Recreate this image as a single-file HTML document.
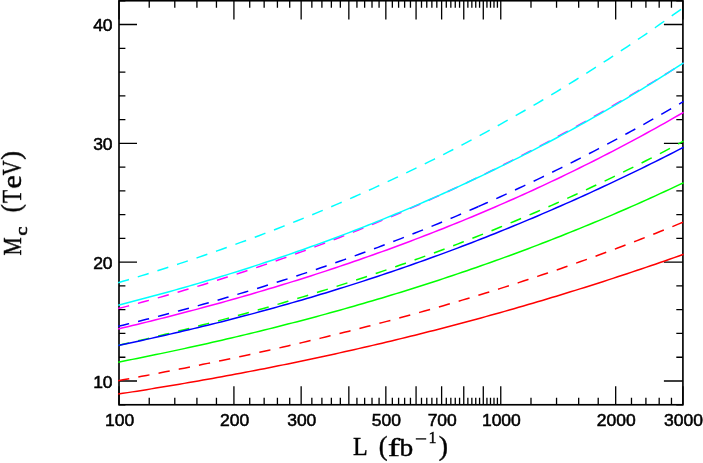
<!DOCTYPE html>
<html><head><meta charset="utf-8"><title>plot</title>
<style>html,body{margin:0;padding:0;background:#fff}svg{display:block}text{font-family:"Liberation Sans",sans-serif;fill:#000}.s{font-family:"Liberation Serif",serif}</style></head><body>
<svg width="703" height="463" viewBox="0 0 703 463">
<rect width="703" height="463" fill="#fff"/>
<path d="M119.00 404.77v-18.50M119.00 0.74v18.80M233.92 404.77v-18.50M233.92 0.74v18.80M301.15 404.77v-18.50M301.15 0.74v18.80M348.84 404.77v-18.50M348.84 0.74v18.80M385.84 404.77v-18.50M385.84 0.74v18.80M416.07 404.77v-18.50M416.07 0.74v18.80M441.62 404.77v-18.50M441.62 0.74v18.80M463.76 404.77v-18.50M463.76 0.74v18.80M483.29 404.77v-18.50M483.29 0.74v18.80M500.76 404.77v-18.50M500.76 0.74v18.80M615.68 404.77v-18.50M615.68 0.74v18.80M682.91 404.77v-18.50M682.91 0.74v18.80M149.23 404.77v-7.00M149.23 0.74v6.90M174.79 404.77v-7.00M174.79 0.74v6.90M196.92 404.77v-7.00M196.92 0.74v6.90M216.45 404.77v-7.00M216.45 0.74v6.90M249.72 404.77v-7.00M249.72 0.74v6.90M264.15 404.77v-7.00M264.15 0.74v6.90M277.42 404.77v-7.00M277.42 0.74v6.90M289.71 404.77v-7.00M289.71 0.74v6.90M311.85 404.77v-7.00M311.85 0.74v6.90M321.90 404.77v-7.00M321.90 0.74v6.90M331.37 404.77v-7.00M331.37 0.74v6.90M340.34 404.77v-7.00M340.34 0.74v6.90M356.93 404.77v-7.00M356.93 0.74v6.90M364.64 404.77v-7.00M364.64 0.74v6.90M372.01 404.77v-7.00M372.01 0.74v6.90M379.07 404.77v-7.00M379.07 0.74v6.90M392.34 404.77v-7.00M392.34 0.74v6.90M398.60 404.77v-7.00M398.60 0.74v6.90M404.63 404.77v-7.00M404.63 0.74v6.90M410.45 404.77v-7.00M410.45 0.74v6.90M421.50 404.77v-7.00M421.50 0.74v6.90M426.77 404.77v-7.00M426.77 0.74v6.90M431.87 404.77v-7.00M431.87 0.74v6.90M436.82 404.77v-7.00M436.82 0.74v6.90M446.30 404.77v-7.00M446.30 0.74v6.90M450.84 404.77v-7.00M450.84 0.74v6.90M455.26 404.77v-7.00M455.26 0.74v6.90M459.57 404.77v-7.00M459.57 0.74v6.90M467.86 404.77v-7.00M467.86 0.74v6.90M471.85 404.77v-7.00M471.85 0.74v6.90M475.75 404.77v-7.00M475.75 0.74v6.90M479.57 404.77v-7.00M479.57 0.74v6.90M486.94 404.77v-7.00M486.94 0.74v6.90M490.50 404.77v-7.00M490.50 0.74v6.90M493.99 404.77v-7.00M493.99 0.74v6.90M497.41 404.77v-7.00M497.41 0.74v6.90M530.99 404.77v-7.00M530.99 0.74v6.90M556.55 404.77v-7.00M556.55 0.74v6.90M578.68 404.77v-7.00M578.68 0.74v6.90M598.21 404.77v-7.00M598.21 0.74v6.90M631.48 404.77v-7.00M631.48 0.74v6.90M645.91 404.77v-7.00M645.91 0.74v6.90M659.18 404.77v-7.00M659.18 0.74v6.90M671.47 404.77v-7.00M671.47 0.74v6.90M119.00 404.77h6.40M682.91 404.77h-6.60M119.00 381.00h18.00M682.91 381.00h-19.00M119.00 357.23h6.40M682.91 357.23h-6.60M119.00 333.47h6.40M682.91 333.47h-6.60M119.00 309.70h6.40M682.91 309.70h-6.60M119.00 285.94h6.40M682.91 285.94h-6.60M119.00 262.17h18.00M682.91 262.17h-19.00M119.00 238.40h6.40M682.91 238.40h-6.60M119.00 214.64h6.40M682.91 214.64h-6.60M119.00 190.87h6.40M682.91 190.87h-6.60M119.00 167.11h6.40M682.91 167.11h-6.60M119.00 143.34h18.00M682.91 143.34h-19.00M119.00 119.57h6.40M682.91 119.57h-6.60M119.00 95.81h6.40M682.91 95.81h-6.60M119.00 72.04h6.40M682.91 72.04h-6.60M119.00 48.28h6.40M682.91 48.28h-6.60M119.00 24.51h18.00M682.91 24.51h-19.00M119.00 0.74h6.40M682.91 0.74h-6.60" fill="none" stroke="#000" stroke-width="1.3"/>
<rect x="119.00" y="0.74" width="563.91" height="404.02" fill="none" stroke="#000" stroke-width="1.65"/>
<path d="M118.20 394.07 L122.91 393.35 L127.62 392.62 L132.34 391.88 L137.05 391.14 L141.76 390.39 L146.47 389.64 L151.18 388.87 L155.89 388.11 L160.61 387.33 L165.32 386.55 L170.03 385.77 L174.74 384.97 L179.45 384.17 L184.16 383.37 L188.88 382.56 L193.59 381.74 L198.30 380.91 L203.01 380.08 L207.72 379.24 L212.43 378.39 L217.15 377.54 L221.86 376.68 L226.57 375.82 L231.28 374.94 L235.99 374.06 L240.70 373.18 L245.42 372.28 L250.13 371.38 L254.84 370.47 L259.55 369.56 L264.26 368.64 L268.97 367.71 L273.69 366.77 L278.40 365.83 L283.11 364.88 L287.82 363.92 L292.53 362.95 L297.25 361.98 L301.96 361.00 L306.67 360.01 L311.38 359.02 L316.09 358.01 L320.80 357.00 L325.52 355.98 L330.23 354.96 L334.94 353.93 L339.65 352.88 L344.36 351.84 L349.07 350.78 L353.79 349.72 L358.50 348.64 L363.21 347.56 L367.92 346.48 L372.63 345.38 L377.34 344.28 L382.06 343.16 L386.77 342.04 L391.48 340.92 L396.19 339.78 L400.90 338.64 L405.61 337.48 L410.33 336.32 L415.04 335.16 L419.75 333.98 L424.46 332.79 L429.17 331.60 L433.88 330.40 L438.60 329.19 L443.31 327.97 L448.02 326.74 L452.73 325.51 L457.44 324.26 L462.16 323.01 L466.87 321.75 L471.58 320.48 L476.29 319.21 L481.00 317.92 L485.71 316.62 L490.43 315.32 L495.14 314.01 L499.85 312.69 L504.56 311.36 L509.27 310.02 L513.98 308.67 L518.70 307.32 L523.41 305.95 L528.12 304.58 L532.83 303.20 L537.54 301.81 L542.25 300.41 L546.97 299.00 L551.68 297.59 L556.39 296.16 L561.10 294.73 L565.81 293.28 L570.52 291.83 L575.24 290.37 L579.95 288.90 L584.66 287.42 L589.37 285.93 L594.08 284.44 L598.79 282.93 L603.51 281.42 L608.22 279.89 L612.93 278.36 L617.64 276.82 L622.35 275.27 L627.07 273.71 L631.78 272.14 L636.49 270.57 L641.20 268.98 L645.91 267.39 L650.62 265.78 L655.34 264.17 L660.05 262.55 L664.76 260.92 L669.47 259.28 L674.18 257.63 L678.89 255.98 L683.61 254.31" fill="none" stroke="#ff0000" stroke-width="1.5"/>
<path d="M118.20 380.66 L122.91 379.81 L127.62 378.95 L132.34 378.08 L137.05 377.21 L141.76 376.33 L146.47 375.44 L151.18 374.55 L155.89 373.66 L160.61 372.75 L165.32 371.84 L170.03 370.93 L174.74 370.01 L179.45 369.08 L184.16 368.15 L188.88 367.21 L193.59 366.26 L198.30 365.31 L203.01 364.35 L207.72 363.39 L212.43 362.41 L217.15 361.43 L221.86 360.45 L226.57 359.46 L231.28 358.46 L235.99 357.45 L240.70 356.44 L245.42 355.42 L250.13 354.40 L254.84 353.36 L259.55 352.32 L264.26 351.28 L268.97 350.22 L273.69 349.16 L278.40 348.09 L283.11 347.02 L287.82 345.93 L292.53 344.84 L297.25 343.74 L301.96 342.64 L306.67 341.53 L311.38 340.40 L316.09 339.28 L320.80 338.14 L325.52 337.00 L330.23 335.84 L334.94 334.68 L339.65 333.52 L344.36 332.34 L349.07 331.16 L353.79 329.97 L358.50 328.77 L363.21 327.56 L367.92 326.34 L372.63 325.11 L377.34 323.88 L382.06 322.64 L386.77 321.39 L391.48 320.13 L396.19 318.86 L400.90 317.58 L405.61 316.30 L410.33 315.00 L415.04 313.70 L419.75 312.39 L424.46 311.06 L429.17 309.73 L433.88 308.39 L438.60 307.04 L443.31 305.68 L448.02 304.32 L452.73 302.94 L457.44 301.55 L462.16 300.15 L466.87 298.75 L471.58 297.33 L476.29 295.90 L481.00 294.46 L485.71 293.02 L490.43 291.56 L495.14 290.09 L499.85 288.61 L504.56 287.12 L509.27 285.63 L513.98 284.12 L518.70 282.60 L523.41 281.06 L528.12 279.52 L532.83 277.97 L537.54 276.41 L542.25 274.83 L546.97 273.24 L551.68 271.65 L556.39 270.04 L561.10 268.42 L565.81 266.79 L570.52 265.14 L575.24 263.49 L579.95 261.82 L584.66 260.14 L589.37 258.45 L594.08 256.75 L598.79 255.03 L603.51 253.30 L608.22 251.56 L612.93 249.81 L617.64 248.05 L622.35 246.27 L627.07 244.48 L631.78 242.67 L636.49 240.86 L641.20 239.03 L645.91 237.18 L650.62 235.33 L655.34 233.46 L660.05 231.57 L664.76 229.67 L669.47 227.76 L674.18 225.84 L678.89 223.90 L683.61 221.94" fill="none" stroke="#ff0000" stroke-width="1.5" stroke-dasharray="11.4 9.185" stroke-dashoffset="0.15"/>
<path d="M118.20 362.15 L122.91 361.23 L127.62 360.30 L132.34 359.37 L137.05 358.43 L141.76 357.48 L146.47 356.53 L151.18 355.57 L155.89 354.60 L160.61 353.62 L165.32 352.64 L170.03 351.64 L174.74 350.64 L179.45 349.63 L184.16 348.62 L188.88 347.59 L193.59 346.56 L198.30 345.52 L203.01 344.47 L207.72 343.41 L212.43 342.34 L217.15 341.27 L221.86 340.18 L226.57 339.09 L231.28 337.99 L235.99 336.88 L240.70 335.77 L245.42 334.64 L250.13 333.51 L254.84 332.36 L259.55 331.21 L264.26 330.05 L268.97 328.88 L273.69 327.70 L278.40 326.51 L283.11 325.31 L287.82 324.10 L292.53 322.89 L297.25 321.66 L301.96 320.42 L306.67 319.18 L311.38 317.92 L316.09 316.66 L320.80 315.39 L325.52 314.10 L330.23 312.81 L334.94 311.50 L339.65 310.19 L344.36 308.87 L349.07 307.53 L353.79 306.19 L358.50 304.83 L363.21 303.47 L367.92 302.09 L372.63 300.71 L377.34 299.31 L382.06 297.91 L386.77 296.49 L391.48 295.06 L396.19 293.62 L400.90 292.17 L405.61 290.71 L410.33 289.24 L415.04 287.76 L419.75 286.26 L424.46 284.76 L429.17 283.24 L433.88 281.71 L438.60 280.18 L443.31 278.62 L448.02 277.06 L452.73 275.49 L457.44 273.90 L462.16 272.31 L466.87 270.70 L471.58 269.08 L476.29 267.45 L481.00 265.80 L485.71 264.14 L490.43 262.47 L495.14 260.79 L499.85 259.10 L504.56 257.39 L509.27 255.68 L513.98 253.95 L518.70 252.20 L523.41 250.45 L528.12 248.68 L532.83 246.90 L537.54 245.10 L542.25 243.29 L546.97 241.47 L551.68 239.64 L556.39 237.79 L561.10 235.93 L565.81 234.06 L570.52 232.17 L575.24 230.27 L579.95 228.36 L584.66 226.43 L589.37 224.49 L594.08 222.54 L598.79 220.57 L603.51 218.59 L608.22 216.59 L612.93 214.58 L617.64 212.56 L622.35 210.52 L627.07 208.46 L631.78 206.40 L636.49 204.32 L641.20 202.22 L645.91 200.11 L650.62 197.98 L655.34 195.84 L660.05 193.69 L664.76 191.52 L669.47 189.34 L674.18 187.14 L678.89 184.92 L683.61 182.70" fill="none" stroke="#00ff00" stroke-width="1.5"/>
<path d="M118.20 345.41 L122.91 344.34 L127.62 343.26 L132.34 342.17 L137.05 341.07 L141.76 339.97 L146.47 338.86 L151.18 337.73 L155.89 336.60 L160.61 335.47 L165.32 334.32 L170.03 333.16 L174.74 332.00 L179.45 330.83 L184.16 329.65 L188.88 328.46 L193.59 327.26 L198.30 326.05 L203.01 324.83 L207.72 323.61 L212.43 322.37 L217.15 321.13 L221.86 319.88 L226.57 318.62 L231.28 317.35 L235.99 316.06 L240.70 314.77 L245.42 313.47 L250.13 312.17 L254.84 310.85 L259.55 309.52 L264.26 308.18 L268.97 306.83 L273.69 305.48 L278.40 304.11 L283.11 302.73 L287.82 301.34 L292.53 299.94 L297.25 298.54 L301.96 297.12 L306.67 295.69 L311.38 294.25 L316.09 292.80 L320.80 291.34 L325.52 289.87 L330.23 288.39 L334.94 286.90 L339.65 285.39 L344.36 283.88 L349.07 282.35 L353.79 280.82 L358.50 279.27 L363.21 277.71 L367.92 276.14 L372.63 274.56 L377.34 272.97 L382.06 271.36 L386.77 269.75 L391.48 268.12 L396.19 266.48 L400.90 264.83 L405.61 263.17 L410.33 261.50 L415.04 259.81 L419.75 258.11 L424.46 256.40 L429.17 254.68 L433.88 252.94 L438.60 251.19 L443.31 249.43 L448.02 247.66 L452.73 245.88 L457.44 244.08 L462.16 242.27 L466.87 240.44 L471.58 238.61 L476.29 236.76 L481.00 234.90 L485.71 233.02 L490.43 231.13 L495.14 229.23 L499.85 227.31 L504.56 225.38 L509.27 223.44 L513.98 221.48 L518.70 219.51 L523.41 217.53 L528.12 215.53 L532.83 213.52 L537.54 211.49 L542.25 209.45 L546.97 207.39 L551.68 205.32 L556.39 203.24 L561.10 201.14 L565.81 199.03 L570.52 196.90 L575.24 194.76 L579.95 192.60 L584.66 190.43 L589.37 188.24 L594.08 186.04 L598.79 183.82 L603.51 181.59 L608.22 179.34 L612.93 177.07 L617.64 174.79 L622.35 172.50 L627.07 170.19 L631.78 167.86 L636.49 165.52 L641.20 163.16 L645.91 160.78 L650.62 158.39 L655.34 155.98 L660.05 153.56 L664.76 151.12 L669.47 148.66 L674.18 146.19 L678.89 143.70 L683.61 141.19" fill="none" stroke="#00ff00" stroke-width="1.5" stroke-dasharray="11.4 9.185" stroke-dashoffset="0.15"/>
<path d="M118.20 345.40 L122.91 344.42 L127.62 343.43 L132.34 342.44 L137.05 341.43 L141.76 340.42 L146.47 339.39 L151.18 338.36 L155.89 337.31 L160.61 336.26 L165.32 335.20 L170.03 334.13 L174.74 333.04 L179.45 331.95 L184.16 330.85 L188.88 329.74 L193.59 328.62 L198.30 327.49 L203.01 326.34 L207.72 325.19 L212.43 324.03 L217.15 322.86 L221.86 321.68 L226.57 320.48 L231.28 319.28 L235.99 318.06 L240.70 316.84 L245.42 315.60 L250.13 314.36 L254.84 313.10 L259.55 311.83 L264.26 310.56 L268.97 309.27 L273.69 307.97 L278.40 306.65 L283.11 305.33 L287.82 304.00 L292.53 302.65 L297.25 301.30 L301.96 299.93 L306.67 298.55 L311.38 297.16 L316.09 295.76 L320.80 294.34 L325.52 292.92 L330.23 291.48 L334.94 290.03 L339.65 288.57 L344.36 287.10 L349.07 285.62 L353.79 284.12 L358.50 282.61 L363.21 281.09 L367.92 279.56 L372.63 278.02 L377.34 276.46 L382.06 274.89 L386.77 273.31 L391.48 271.72 L396.19 270.11 L400.90 268.49 L405.61 266.86 L410.33 265.22 L415.04 263.56 L419.75 261.89 L424.46 260.21 L429.17 258.52 L433.88 256.81 L438.60 255.09 L443.31 253.36 L448.02 251.61 L452.73 249.85 L457.44 248.08 L462.16 246.30 L466.87 244.50 L471.58 242.69 L476.29 240.86 L481.00 239.03 L485.71 237.18 L490.43 235.31 L495.14 233.43 L499.85 231.54 L504.56 229.64 L509.27 227.72 L513.98 225.79 L518.70 223.85 L523.41 221.89 L528.12 219.92 L532.83 217.94 L537.54 215.94 L542.25 213.93 L546.97 211.90 L551.68 209.87 L556.39 207.81 L561.10 205.75 L565.81 203.67 L570.52 201.58 L575.24 199.47 L579.95 197.35 L584.66 195.22 L589.37 193.07 L594.08 190.91 L598.79 188.73 L603.51 186.54 L608.22 184.34 L612.93 182.13 L617.64 179.90 L622.35 177.66 L627.07 175.40 L631.78 173.13 L636.49 170.85 L641.20 168.55 L645.91 166.24 L650.62 163.91 L655.34 161.58 L660.05 159.22 L664.76 156.86 L669.47 154.48 L674.18 152.09 L678.89 149.69 L683.61 147.27" fill="none" stroke="#0000ff" stroke-width="1.5"/>
<path d="M118.20 326.30 L122.91 325.16 L127.62 324.01 L132.34 322.86 L137.05 321.69 L141.76 320.51 L146.47 319.33 L151.18 318.13 L155.89 316.92 L160.61 315.71 L165.32 314.48 L170.03 313.24 L174.74 311.99 L179.45 310.74 L184.16 309.47 L188.88 308.19 L193.59 306.90 L198.30 305.60 L203.01 304.29 L207.72 302.97 L212.43 301.63 L217.15 300.29 L221.86 298.93 L226.57 297.57 L231.28 296.19 L235.99 294.80 L240.70 293.40 L245.42 291.99 L250.13 290.57 L254.84 289.14 L259.55 287.69 L264.26 286.23 L268.97 284.77 L273.69 283.29 L278.40 281.79 L283.11 280.29 L287.82 278.77 L292.53 277.24 L297.25 275.70 L301.96 274.15 L306.67 272.59 L311.38 271.01 L316.09 269.42 L320.80 267.82 L325.52 266.20 L330.23 264.57 L334.94 262.93 L339.65 261.28 L344.36 259.61 L349.07 257.94 L353.79 256.24 L358.50 254.54 L363.21 252.82 L367.92 251.09 L372.63 249.34 L377.34 247.59 L382.06 245.82 L386.77 244.03 L391.48 242.23 L396.19 240.42 L400.90 238.59 L405.61 236.75 L410.33 234.90 L415.04 233.03 L419.75 231.15 L424.46 229.26 L429.17 227.35 L433.88 225.42 L438.60 223.48 L443.31 221.53 L448.02 219.56 L452.73 217.58 L457.44 215.59 L462.16 213.58 L466.87 211.55 L471.58 209.51 L476.29 207.46 L478.40 206.53" fill="none" stroke="#0000ff" stroke-width="1.5" stroke-dasharray="11.4 9.185" stroke-dashoffset="0.15"/>
<path d="M478.40 206.53 L481.00 205.39 L485.71 203.30 L490.43 201.20 L495.14 199.09 L499.85 196.96 L504.56 194.81 L509.27 192.65 L513.98 190.48 L518.70 188.28 L523.41 186.08 L528.12 183.86 L532.83 181.62 L537.54 179.36 L542.25 177.10 L546.97 174.81 L551.68 172.51 L556.39 170.19 L561.10 167.86 L565.81 165.51 L570.52 163.15 L575.24 160.77 L579.95 158.37 L584.66 155.96 L589.37 153.53 L594.08 151.09 L598.79 148.62 L603.51 146.15 L608.22 143.65 L612.93 141.14 L617.64 138.61 L622.35 136.07 L627.07 133.51 L631.78 130.93 L636.49 128.34 L641.20 125.73 L645.91 123.10 L650.62 120.46 L655.34 117.80 L660.05 115.12 L664.76 112.42 L669.47 109.71 L674.18 106.98 L678.89 104.24 L683.61 101.47" fill="none" stroke="#0000ff" stroke-width="1.5" stroke-dasharray="11.4 9.185" stroke-dashoffset="1"/>
<path d="M118.20 328.90 L122.91 327.79 L127.62 326.68 L132.34 325.55 L137.05 324.42 L141.76 323.28 L146.47 322.12 L151.18 320.96 L155.89 319.79 L160.61 318.62 L165.32 317.43 L170.03 316.23 L174.74 315.03 L179.45 313.81 L184.16 312.59 L188.88 311.35 L193.59 310.11 L198.30 308.85 L203.01 307.59 L207.72 306.32 L212.43 305.04 L217.15 303.74 L221.86 302.44 L226.57 301.13 L231.28 299.80 L235.99 298.47 L240.70 297.13 L245.42 295.77 L250.13 294.41 L254.84 293.03 L259.55 291.65 L264.26 290.25 L268.97 288.84 L273.69 287.43 L278.40 286.00 L283.11 284.56 L287.82 283.10 L292.53 281.64 L297.25 280.17 L301.96 278.68 L306.67 277.19 L311.38 275.68 L316.09 274.16 L320.80 272.63 L325.52 271.09 L330.23 269.53 L334.94 267.97 L339.65 266.39 L344.36 264.80 L349.07 263.19 L353.79 261.58 L358.50 259.95 L363.21 258.31 L367.92 256.66 L372.63 254.99 L377.34 253.31 L382.06 251.62 L386.77 249.92 L391.48 248.20 L396.19 246.47 L400.90 244.73 L405.61 242.98 L410.33 241.21 L415.04 239.42 L419.75 237.63 L424.46 235.82 L429.17 233.99 L433.88 232.16 L438.60 230.30 L443.31 228.44 L448.02 226.56 L452.73 224.67 L457.44 222.76 L462.16 220.83 L466.87 218.90 L471.58 216.95 L476.29 214.98 L481.00 213.00 L485.71 211.00 L490.43 208.99 L495.14 206.96 L499.85 204.92 L504.56 202.87 L509.27 200.79 L513.98 198.71 L518.70 196.60 L523.41 194.48 L528.12 192.35 L532.83 190.20 L537.54 188.03 L542.25 185.85 L546.97 183.65 L551.68 181.43 L556.39 179.20 L561.10 176.95 L565.81 174.69 L570.52 172.40 L575.24 170.10 L579.95 167.79 L584.66 165.45 L589.37 163.10 L594.08 160.73 L598.79 158.35 L603.51 155.94 L608.22 153.52 L612.93 151.08 L617.64 148.63 L622.35 146.15 L627.07 143.66 L631.78 141.15 L636.49 138.62 L641.20 136.07 L645.91 133.50 L650.62 130.91 L655.34 128.31 L660.05 125.69 L664.76 123.04 L669.47 120.38 L674.18 117.70 L678.89 115.00 L683.61 112.28" fill="none" stroke="#ff00ff" stroke-width="1.5"/>
<path d="M118.20 308.59 L122.91 307.36 L127.62 306.12 L132.34 304.87 L137.05 303.61 L141.76 302.33 L146.47 301.04 L151.18 299.74 L155.89 298.43 L160.61 297.11 L165.32 295.78 L170.03 294.43 L174.74 293.07 L179.45 291.70 L184.16 290.32 L188.88 288.93 L193.59 287.52 L198.30 286.10 L203.01 284.67 L207.72 283.23 L212.43 281.77 L217.15 280.30 L221.86 278.82 L226.57 277.32 L231.28 275.82 L235.99 274.30 L240.70 272.76 L245.42 271.22 L250.13 269.66 L254.84 268.08 L259.55 266.50 L264.26 264.90 L268.97 263.29 L273.69 261.66 L278.40 260.02 L283.11 258.37 L287.82 256.70 L292.53 255.02 L297.25 253.33 L301.96 251.62 L306.67 249.90 L311.38 248.16 L316.09 246.41 L320.80 244.65 L325.52 242.87 L330.23 241.07 L334.94 239.27 L339.65 237.45 L344.36 235.61 L349.07 233.76 L353.79 231.90 L358.50 230.02 L363.21 228.12 L367.92 226.22 L372.63 224.29 L377.34 222.36 L382.06 220.40 L386.77 218.44 L391.48 216.45 L396.19 214.46 L400.90 212.44 L405.61 210.42 L410.33 208.37 L415.04 206.31 L419.75 204.24 L424.46 202.15 L429.17 200.05 L433.88 197.93 L438.60 195.80 L443.31 193.65 L448.02 191.48 L452.73 189.30 L457.44 187.10 L462.16 184.89 L466.87 182.66 L471.58 180.42 L476.29 178.16 L481.00 175.88 L485.71 173.59 L490.43 171.29 L495.14 168.96 L499.85 166.63 L504.56 164.27 L509.27 161.90 L513.98 159.52 L518.70 157.11 L523.41 154.70 L528.12 152.26 L532.83 149.81 L537.54 147.35 L542.25 144.87 L546.97 142.37 L551.68 139.86 L556.39 137.33 L561.10 134.78 L565.81 132.22 L570.52 129.64 L575.24 127.05 L579.95 124.44 L584.66 121.81 L589.37 119.17 L594.08 116.52 L598.79 113.84 L603.51 111.15 L608.22 108.45 L612.93 105.73 L617.64 102.99 L622.35 100.24 L627.07 97.47 L631.78 94.69 L636.49 91.89 L641.20 89.08 L645.91 86.24 L650.62 83.40 L655.34 80.54 L660.05 77.66 L664.76 74.77 L669.47 71.86 L674.18 68.94 L678.89 66.00 L683.61 63.05" fill="none" stroke="#ff00ff" stroke-width="1.5" stroke-dasharray="11.4 9.185" stroke-dashoffset="0.15"/>
<path d="M118.20 305.15 L122.91 303.96 L127.62 302.76 L132.34 301.54 L137.05 300.32 L141.76 299.09 L146.47 297.84 L151.18 296.58 L155.89 295.31 L160.61 294.03 L165.32 292.74 L170.03 291.44 L174.74 290.12 L179.45 288.80 L184.16 287.46 L188.88 286.11 L193.59 284.74 L198.30 283.37 L203.01 281.98 L207.72 280.58 L212.43 279.17 L217.15 277.75 L221.86 276.31 L226.57 274.86 L231.28 273.40 L235.99 271.93 L240.70 270.44 L245.42 268.94 L250.13 267.43 L254.84 265.90 L259.55 264.36 L264.26 262.81 L268.97 261.25 L273.69 259.67 L278.40 258.08 L283.11 256.48 L287.82 254.86 L292.53 253.23 L297.25 251.58 L301.96 249.92 L306.67 248.25 L311.38 246.57 L316.09 244.87 L320.80 243.15 L325.52 241.43 L330.23 239.69 L334.94 237.93 L339.65 236.16 L344.36 234.38 L349.07 232.58 L353.79 230.76 L358.50 228.94 L363.21 227.09 L367.92 225.24 L372.63 223.37 L377.34 221.48 L382.06 219.58 L386.77 217.66 L391.48 215.73 L396.19 213.78 L400.90 211.82 L405.61 209.84 L410.33 207.85 L415.04 205.84 L419.75 203.82 L424.46 201.78 L429.17 199.73 L433.88 197.65 L438.60 195.57 L443.31 193.47 L448.02 191.35 L452.73 189.21 L457.44 187.06 L462.16 184.89 L466.87 182.71 L471.58 180.51 L476.29 178.29 L481.00 176.06 L485.71 173.81 L490.43 171.54 L495.14 169.25 L499.85 166.95 L504.56 164.64 L509.27 162.30 L513.98 159.95 L518.70 157.58 L523.41 155.19 L528.12 152.78 L532.83 150.36 L537.54 147.92 L542.25 145.46 L546.97 142.98 L551.68 140.49 L556.39 137.98 L561.10 135.45 L565.81 132.90 L570.52 130.33 L575.24 127.74 L579.95 125.14 L584.66 122.52 L589.37 119.87 L594.08 117.21 L598.79 114.53 L603.51 111.83 L608.22 109.12 L612.93 106.38 L617.64 103.62 L622.35 100.84 L627.07 98.05 L631.78 95.23 L636.49 92.40 L641.20 89.54 L645.91 86.67 L650.62 83.77 L655.34 80.86 L660.05 77.92 L664.76 74.96 L669.47 71.99 L674.18 68.99 L678.89 65.97 L683.61 62.93" fill="none" stroke="#00ffff" stroke-width="1.5"/>
<path d="M118.20 282.73 L122.91 281.33 L127.62 279.92 L132.34 278.50 L137.05 277.07 L141.76 275.63 L146.47 274.17 L151.18 272.71 L155.89 271.23 L160.61 269.73 L165.32 268.23 L170.03 266.71 L174.74 265.18 L179.45 263.64 L184.16 262.09 L188.88 260.52 L193.59 258.94 L198.30 257.35 L203.01 255.74 L207.72 254.12 L212.43 252.49 L217.15 250.85 L221.86 249.19 L226.57 247.52 L231.28 245.83 L235.99 244.13 L240.70 242.42 L245.42 240.70 L250.13 238.96 L254.84 237.20 L259.55 235.44 L264.26 233.65 L268.97 231.86 L273.69 230.05 L278.40 228.22 L283.11 226.38 L287.82 224.53 L292.53 222.66 L297.25 220.78 L301.96 218.88 L306.67 216.97 L311.38 215.04 L316.09 213.10 L320.80 211.14 L325.52 209.17 L330.23 207.18 L334.94 205.17 L339.65 203.15 L344.36 201.12 L349.07 199.07 L353.79 197.00 L358.50 194.92 L363.21 192.82 L367.92 190.70 L372.63 188.57 L377.34 186.42 L382.06 184.26 L386.77 182.08 L391.48 179.88 L396.19 177.67 L400.90 175.44 L405.61 173.19 L410.33 170.92 L415.04 168.64 L419.75 166.34 L424.46 164.03 L429.17 161.69 L433.88 159.34 L438.60 156.98 L443.31 154.59 L448.02 152.19 L452.73 149.76 L457.44 147.33 L462.16 144.87 L466.87 142.39 L471.58 139.90 L476.29 137.39 L481.00 134.86 L485.71 132.31 L490.43 129.74 L495.14 127.15 L499.85 124.55 L504.56 121.93 L509.27 119.28 L513.98 116.62 L518.70 113.94 L523.41 111.24 L528.12 108.52 L532.83 105.78 L537.54 103.03 L542.25 100.25 L546.97 97.45 L551.68 94.63 L556.39 91.80 L561.10 88.94 L565.81 86.06 L570.52 83.17 L575.24 80.25 L579.95 77.31 L584.66 74.36 L589.37 71.38 L594.08 68.38 L598.79 65.36 L603.51 62.32 L608.22 59.26 L612.93 56.18 L617.64 53.08 L622.35 49.95 L627.07 46.81 L631.78 43.64 L636.49 40.46 L641.20 37.25 L645.91 34.02 L650.62 30.77 L655.34 27.50 L660.05 24.20 L664.76 20.89 L669.47 17.55 L674.18 14.19 L678.89 10.81 L683.61 7.41" fill="none" stroke="#00ffff" stroke-width="1.5" stroke-dasharray="11.4 9.185" stroke-dashoffset="0.15"/>
<g opacity="0.999">
<text transform="translate(119.60 425.5) scale(1.03 0.94)" font-size="17" text-anchor="middle" stroke="#000" stroke-width="0.55">100</text>
<text transform="translate(234.52 425.5) scale(1.03 0.94)" font-size="17" text-anchor="middle" stroke="#000" stroke-width="0.55">200</text>
<text transform="translate(301.75 425.5) scale(1.03 0.94)" font-size="17" text-anchor="middle" stroke="#000" stroke-width="0.55">300</text>
<text transform="translate(386.44 425.5) scale(1.03 0.94)" font-size="17" text-anchor="middle" stroke="#000" stroke-width="0.55">500</text>
<text transform="translate(442.22 425.5) scale(1.03 0.94)" font-size="17" text-anchor="middle" stroke="#000" stroke-width="0.55">700</text>
<text transform="translate(501.36 425.5) scale(1.03 0.94)" font-size="17" text-anchor="middle" stroke="#000" stroke-width="0.55">1000</text>
<text transform="translate(616.28 425.5) scale(1.03 0.94)" font-size="17" text-anchor="middle" stroke="#000" stroke-width="0.55">2000</text>
<text transform="translate(683.51 425.5) scale(1.03 0.94)" font-size="17" text-anchor="middle" stroke="#000" stroke-width="0.55">3000</text>
<text transform="translate(112.6 387.60) scale(1.03 0.94)" font-size="17" text-anchor="end" stroke="#000" stroke-width="0.55">10</text>
<text transform="translate(112.6 268.77) scale(1.03 0.94)" font-size="17" text-anchor="end" stroke="#000" stroke-width="0.55">20</text>
<text transform="translate(112.6 149.94) scale(1.03 0.94)" font-size="17" text-anchor="end" stroke="#000" stroke-width="0.55">30</text>
<text transform="translate(112.6 31.11) scale(1.03 0.94)" font-size="17" text-anchor="end" stroke="#000" stroke-width="0.55">40</text>
<text class="s" font-size="100" stroke="#000" stroke-width="1.6" transform="matrix(0.2407 0 0 0.2561 352.92 455.34)">L</text>
<text class="s" font-size="100" stroke="#000" stroke-width="1.6" transform="matrix(0.2630 0 0 0.2685 378.85 454.89)">(</text>
<text class="s" font-size="100" stroke="#000" stroke-width="1.6" transform="matrix(0.3677 0 0 0.2507 387.70 455.60)">f</text>
<text class="s" font-size="100" stroke="#000" stroke-width="1.6" transform="matrix(0.2745 0 0 0.2586 399.60 455.64)">b</text>
<path d="M415.8 438.9H426.2" stroke="#000" stroke-width="1.3" fill="none"/>
<text class="s" font-size="100" stroke="#000" stroke-width="2.5" transform="matrix(0.1611 0 0 0.1636 428.41 443.40)">1</text>
<text class="s" font-size="100" stroke="#000" stroke-width="1.6" transform="matrix(0.2769 0 0 0.2685 438.67 454.89)">)</text>
<g transform="translate(21.0 255.1) rotate(-90)">
<text class="s" font-size="100" stroke="#000" stroke-width="2" transform="matrix(0.2012 0 0 0.2621 -0.30 -0.26)">M</text>
<text class="s" font-size="100" stroke="#000" stroke-width="3.5" transform="matrix(0.2026 0 0 0.1771 19.59 5.72)">c</text>
<text class="s" font-size="100" stroke="#000" stroke-width="1.6" transform="matrix(0.2444 0 0 0.2734 42.72 -1.01)">(</text>
<text class="s" font-size="100" stroke="#000" stroke-width="1.6" transform="matrix(0.2153 0 0 0.2636 52.08 -0.26)">T</text>
<text class="s" font-size="100" stroke="#000" stroke-width="1.6" transform="matrix(0.3026 0 0 0.2646 66.39 -0.06)">e</text>
<text class="s" font-size="100" stroke="#000" stroke-width="1.6" transform="matrix(0.2056 0 0 0.2642 79.79 -0.23)">V</text>
<text class="s" font-size="100" stroke="#000" stroke-width="1.6" transform="matrix(0.2654 0 0 0.2734 95.30 -1.01)">)</text>
</g>
</g>
</svg></body></html>
